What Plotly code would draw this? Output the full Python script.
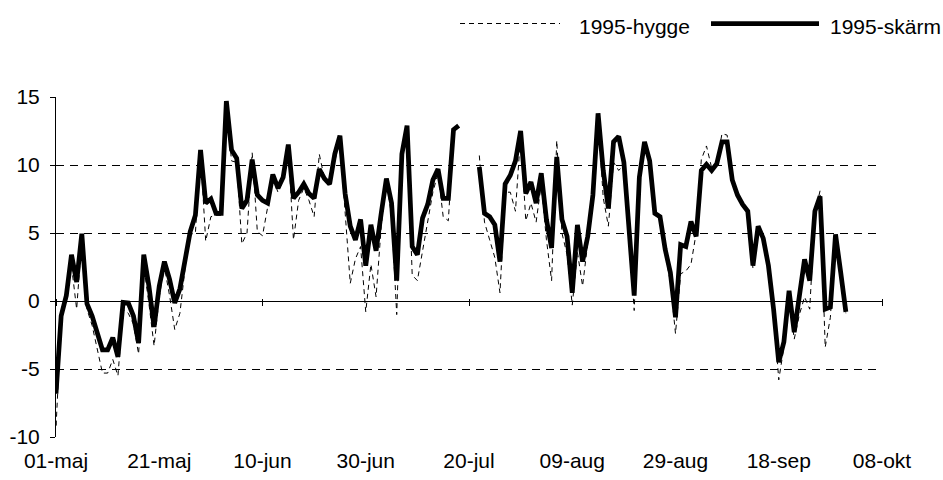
import pandas as pd
import plotly.graph_objects as go

# Daily values, 30 Apr - 1 Oct 1995 (None = missing days)
dates = pd.date_range("1995-04-30", "1995-10-01", freq="D")

hygge = [
    -1.5, -9.3, -1.5, 0.2, 2.6, -0.6, 4.6, -0.6, -1.8, -3.6,
    -5.3, -5.3, -4.3, -5.5, -0.6, -0.9, -1.7, -3.9, 2.6, -0.2,
    -3.3, 0.3, 2.5, 0.4, -2.1, -0.9, 2.4, 4.9, 5.0, 10.9,
    4.4, 6.2, 6.3, 6.3, 14.4, 10.3, 10.2, 4.2, 5.0, 10.9,
    5.1, 4.8, 6.8, 9.0, 8.0, 8.9, 11.2, 4.5, 7.4, 8.3,
    7.4, 6.2, 10.8, 9.0, 8.4, 10.3, 11.8, 6.5, 1.3, 3.1,
    4.0, -0.8, 2.7, 0.3, 5.5, 8.8, 6.3, -1.0, 10.5, 12.8,
    1.9, 1.5, 3.6, 5.8, 8.0, 9.4, 6.2, 5.9, 12.4, 12.8,
    None, None, None, 10.7, 5.8, 4.5, 3.2, 0.6, 8.0, 8.0,
    6.6, 12.3, 5.9, 7.2, 5.8, 8.6, 4.5, 1.5, 11.8, 5.0,
    3.4, -0.3, 3.6, 1.1, 4.2, 7.4, 13.6, 7.6, 5.5, 10.2,
    9.6, 10.0, 4.9, -0.7, 8.9, 11.6, 10.2, 6.4, 6.0, 3.5,
    1.4, -2.4, 2.0, 2.2, 2.7, 5.0, 10.4, 11.4, 9.8, 10.2,
    12.3, 12.2, 8.8, 7.7, 7.0, 6.5, 2.4, 5.4, 4.4, 2.3,
    -0.6, -5.8, -3.4, 0.2, -2.8, -1.0, 0.3, -0.6, 6.5, 8.1,
    -3.4, -1.2, 4.8, 2.0, -0.9,
]

skarm = [
    -1.2, -6.8, -1.1, 0.4, 3.4, 1.4, 4.95, -0.2, -1.1, -2.5,
    -3.6, -3.6, -2.7, -4.1, -0.1, -0.15, -1.1, -3.1, 3.4, 1.1,
    -1.9, 1.1, 2.9, 1.6, -0.15, 0.9, 2.9, 5.1, 6.3, 11.1,
    7.2, 7.5, 6.45, 6.45, 14.7, 11.1, 10.5, 6.8, 7.4, 10.4,
    7.8, 7.4, 7.2, 9.3, 8.3, 9.1, 11.5, 7.55, 8.0, 8.6,
    7.9, 7.55, 9.7, 9.0, 8.6, 10.8, 12.15, 7.9, 5.5, 4.5,
    6.0, 2.6, 5.6, 3.7, 6.45, 9.0, 7.2, 1.5, 10.8, 12.9,
    4.0, 3.4, 6.1, 7.1, 8.9, 9.7, 7.55, 7.55, 12.6, 12.9,
    None, None, None, 9.85, 6.45, 6.2, 5.6, 2.9, 8.6, 9.25,
    10.3, 12.5, 7.9, 8.75, 7.2, 9.4, 6.0, 3.9, 10.6, 6.0,
    4.75, 0.6, 5.6, 2.9, 4.75, 7.8, 13.8, 9.6, 6.8, 11.7,
    12.1, 10.2, 5.0, 0.4, 9.1, 11.7, 10.3, 6.45, 6.2, 3.8,
    2.1, -1.2, 4.15, 4.0, 5.85, 4.75, 9.6, 10.05, 9.6, 10.1,
    11.7, 11.7, 8.9, 7.8, 7.1, 6.6, 2.6, 5.5, 4.6, 2.6,
    -0.6, -4.5, -3.0, 0.75, -2.3, 0.4, 3.06, 1.5, 6.6, 7.7,
    -0.6, -0.45, 4.9, 2.1, -0.8,
]

series_names = ["1995-hygge", "1995-skärm"]

x_tick_dates = pd.date_range("1995-05-01", periods=9, freq="20D")
x_tick_text = ["01-maj", "21-maj", "10-jun", "30-jun", "20-jul",
               "09-aug", "29-aug", "18-sep", "08-okt"]
y_tick_vals = [-10, -5, 0, 5, 10, 15]
y_tick_text = ["-10", "-5", "0", "5", "10", "15"]

x_range = ["1995-05-01", "1995-10-08"]
y_range = [-10, 15]

# Canvas and plot-area geometry (pixels)
W, H = 943, 480
ML, MR, MT, MB = 56, 61, 97, 43
PW, PH = W - ML - MR, H - MT - MB
FONT = "Liberation Sans, Arial, sans-serif"


def px_x(px):
    return (px - ML) / PW


def px_y(py):
    return (H - MB - py) / PH


fig = go.Figure()

fig.add_trace(go.Scatter(
    x=dates, y=hygge, name=series_names[0], mode="lines",
    line=dict(color="black", width=1, dash="5px,4px"),
    showlegend=False,
))
fig.add_trace(go.Scatter(
    x=dates, y=skarm, name=series_names[1], mode="lines",
    line=dict(color="black", width=4.75),
    showlegend=False,
))
# carrier for the tick marks crossing the zero line
fig.add_trace(go.Scatter(x=[], y=[], xaxis="x2", yaxis="y",
                         showlegend=False, hoverinfo="skip"))

zero_frac = (0 - y_range[0]) / (y_range[1] - y_range[0])

fig.update_layout(
    width=W, height=H,
    margin=dict(l=ML, r=MR, t=MT, b=MB, pad=0),
    paper_bgcolor="white", plot_bgcolor="white",
    font=dict(family=FONT, size=21, color="black"),
    showlegend=False,
    xaxis=dict(
        type="date", range=x_range, automargin=False,
        tickvals=x_tick_dates, ticktext=x_tick_text,
        ticks="", showline=False, showgrid=False, zeroline=False,
        tickfont=dict(family=FONT, size=21, color="black"),
        ticklabelstandoff=9,
    ),
    xaxis2=dict(
        type="date", range=x_range, overlaying="x", anchor="free",
        position=zero_frac + 3.5 / PH, automargin=False,
        tickvals=x_tick_dates[::2], showticklabels=False,
        ticks="outside", ticklen=7, tickwidth=1, tickcolor="black",
        showline=False, showgrid=False, zeroline=False,
    ),
    yaxis=dict(
        range=y_range, tickvals=y_tick_vals, ticktext=y_tick_text,
        automargin=False,
        showline=True, linecolor="black", linewidth=1,
        ticks="outside", ticklen=5, tickwidth=1, tickcolor="black",
        showgrid=True, gridcolor="black", gridwidth=1, griddash="8px,6px",
        zeroline=True, zerolinecolor="black", zerolinewidth=1,
        tickfont=dict(family=FONT, size=21, color="black"),
        ticklabelstandoff=6,
    ),
)

# legend drawn above the plot
leg_y = px_y(23.5)
fig.add_shape(type="line", xref="paper", yref="paper",
              x0=px_x(460), x1=px_x(560), y0=leg_y, y1=leg_y,
              line=dict(color="black", width=1, dash="5px,4px"))
fig.add_shape(type="line", xref="paper", yref="paper",
              x0=px_x(711), x1=px_x(819), y0=leg_y, y1=leg_y,
              line=dict(color="black", width=4.75))
for name, left in zip(series_names, [577, 828]):
    fig.add_annotation(text=name, xref="paper", yref="paper",
                       x=px_x(left), y=px_y(26), xanchor="left",
                       yanchor="middle", showarrow=False,
                       font=dict(family=FONT, size=21, color="black"))

fig.write_html("out.html")
